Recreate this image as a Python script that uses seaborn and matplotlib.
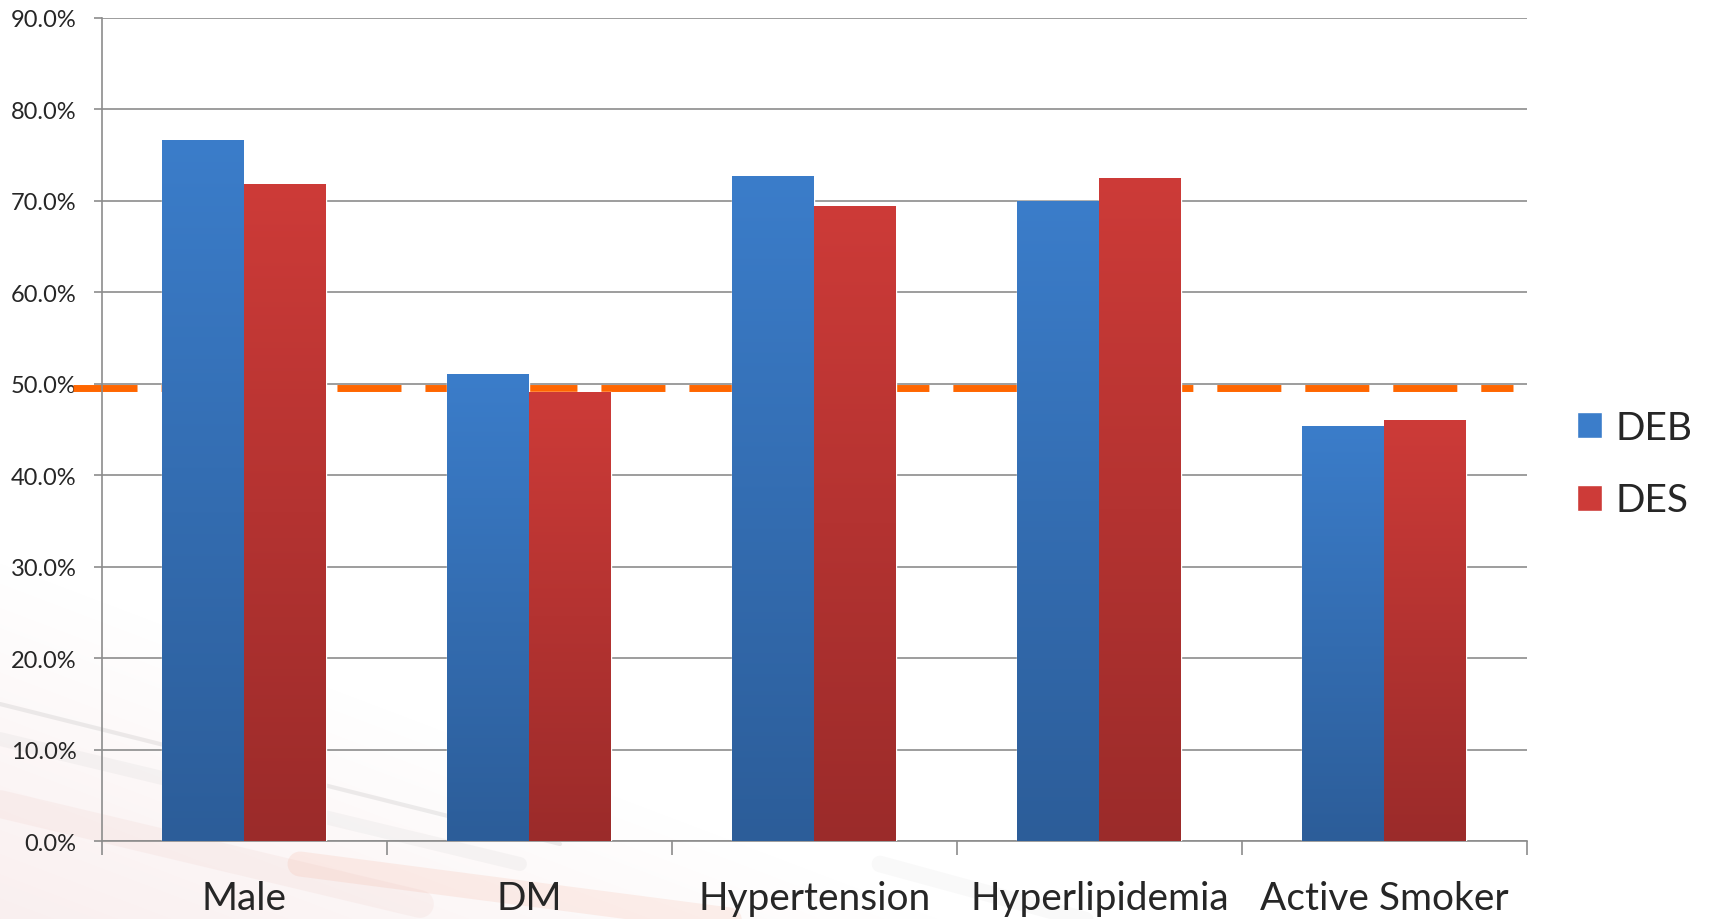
import numpy as np
import pandas as pd
import seaborn as sns
import matplotlib.pyplot as plt
from matplotlib.patches import Patch
from matplotlib.colors import to_rgb

# values
categories = ["Male", "DM", "Hypertension", "Hyperlipidemia", "Active Smoker"]
deb = [76.6, 51.1, 72.7, 70.0, 45.4]
des = [71.8, 49.1, 69.4, 72.5, 46.0]
reference_line = 49.5
groups = ["DEB", "DES"]

data = pd.DataFrame({
    "Category": categories * 2,
    "Group": ["DEB"] * len(categories) + ["DES"] * len(categories),
    "Value": deb + des,
})

sns.set_theme(style="white")
plt.rcParams["font.family"] = ["Lato", "DejaVu Sans"]

top_colors = {"DEB": "#3b7dca", "DES": "#cd3b38"}
bottom_colors = {"DEB": "#2c5d99", "DES": "#9b2b2a"}

fig = plt.figure(figsize=(17.11, 9.2), dpi=100)

# faint decorative swoosh in the background (bottom left)
bg = fig.add_axes([0, 0, 1, 1], zorder=-10)
bg.set_xlim(0, 1711)
bg.set_ylim(920, 0)
bg.axis("off")
yy, xx = np.mgrid[0:920, 0:1711]
wash = np.clip(1 - (xx / 950 + (920 - yy) / 360), 0, 1)
img = np.ones((920, 1711, 4))
img[..., 0] = 0.94
img[..., 1] = 0.82
img[..., 2] = 0.82
img[..., 3] = wash * 0.35
bg.imshow(img, extent=[0, 1711, 920, 0], aspect="auto")
for (x0, y0, x1, y1, c, a, w) in [
    (0, 705, 560, 845, "#a0a0a0", 0.18, 3),
    (0, 740, 520, 865, "#c0c0c0", 0.12, 10),
    (300, 865, 760, 925, "#f09070", 0.13, 18),
    (0, 805, 420, 905, "#e9b7b0", 0.12, 20),
    (880, 865, 1100, 925, "#d0d0d0", 0.12, 12),
]:
    bg.plot([x0, x1], [y0, y1], color=c, alpha=a, lw=w, solid_capstyle="round")

ax = fig.add_axes([101.5 / 1711, 1 - 842.4 / 920,
                   (1527 - 101.5) / 1711, (842.4 - 18.5) / 920])
ax.patch.set_alpha(0)

sns.barplot(data=data, x="Category", y="Value", hue="Group",
            palette=top_colors, width=0.575, gap=0, legend=False,
            saturation=1, ax=ax, zorder=3)

# vertical gradient on each bar
for bar in ax.patches:
    h = bar.get_height()
    if h <= 0:
        continue
    fc = bar.get_facecolor()[:3]
    grp = "DEB" if np.allclose(fc, to_rgb(top_colors["DEB"]), atol=0.02) else "DES"
    top = np.array(to_rgb(top_colors[grp]))
    bot = np.array(to_rgb(bottom_colors[grp]))
    t = np.linspace(0, 1, 256)[:, None, None]
    grad = bot + (top - bot) * t
    x = bar.get_x()
    w = bar.get_width()
    im = ax.imshow(grad, extent=[x, x + w, 0, h], origin="lower",
                   aspect="auto", zorder=3.5)
    im.set_clip_path(bar)

ax.set_xlim(-0.5, len(categories) - 0.5)
ax.set_ylim(0, 90)

# orange dashed reference line
ax.plot([-0.6, 4.45], [reference_line, reference_line], color="#ff6600",
        lw=5.0, dashes=(9.22, 3.45), solid_capstyle="butt",
        dash_capstyle="butt", clip_on=False, zorder=2)

ax.set_yticks(np.arange(0, 91, 10))
ax.set_yticklabels([f"{v:.1f}%" for v in np.arange(0, 91, 10)])
ax.yaxis.grid(True, color="#8c8c8c", lw=1.2, zorder=0)
ax.set_axisbelow(True)

ax.set_xticks(np.arange(-0.5, len(categories), 1.0))
ax.set_xticklabels([])
ax.set_xticks(np.arange(len(categories)), minor=True)
ax.set_xticklabels(categories, minor=True)

ax.tick_params(axis="y", which="major", direction="out", length=6,
               width=1.2, color="#8c8c8c", labelsize=17, pad=12, left=True)
ax.tick_params(axis="x", which="major", direction="out", length=10,
               width=1.2, color="#8c8c8c", bottom=True)
ax.tick_params(axis="x", which="minor", length=0, labelsize=28, pad=28)

for side in ["top", "right"]:
    ax.spines[side].set_visible(False)
for side in ["left", "bottom"]:
    ax.spines[side].set_color("#8c8c8c")
    ax.spines[side].set_linewidth(1.2)

ax.set_xlabel("")
ax.set_ylabel("")

handles = [Patch(facecolor=top_colors[g], label=g) for g in groups]
fig.legend(handles=handles, loc="center left",
           bbox_to_anchor=(1577 / 1711, 1 - 465 / 920),
           frameon=False, fontsize=28, handlelength=0.65, handleheight=0.65,
           handletextpad=0.35, labelspacing=0.95, borderpad=0,
           borderaxespad=0)

fig.savefig("out.png", dpi=100)
